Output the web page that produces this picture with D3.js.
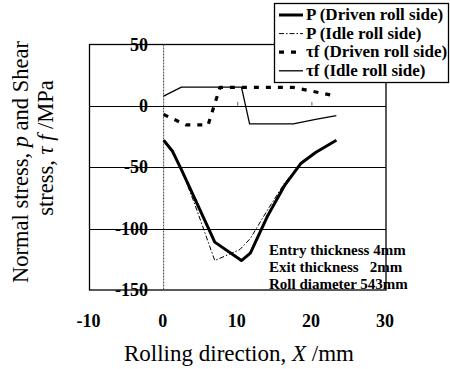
<!DOCTYPE html>
<html>
<head>
<meta charset="utf-8">
<script src="https://cdn.jsdelivr.net/npm/d3@7"></script>
<style>
  body { margin: 0; background: #fff; }
  svg { display: block; }
</style>
</head>
<body>
<svg id="chart"></svg>
<script>
// rolling direction X (mm) / stress (MPa)
const pDrivenX = [0, 1.2, 2.4, 4.7, 6.9, 10.5, 11.7, 14, 16.3, 18.5, 20.5, 23.3];
const pDrivenY = [-28, -37, -52, -82, -111, -126, -120, -90, -65, -47, -38, -28];
const pIdleX = [0, 1.2, 2.4, 4.2, 6.9, 10.3, 11.7, 14.1, 16.3, 18.5, 20.5, 23.3];
const pIdleY = [-28, -37, -52, -80, -126, -117, -108, -84, -63, -47, -38, -28];
const tauDrivenX = [0, 3, 6, 7.6, 10.5, 17.5, 23.3];
const tauDrivenY = [-7, -15.5, -15.5, 15, 15, 15, 8];
const tauIdleX = [0, 2.4, 10.5, 11.6, 17.5, 20.5, 23.3];
const tauIdleY = [8, 15.3, 15.3, -14.7, -14.7, -11, -8];

const xTicks = [-10, 0, 10, 20, 30];
const yTicks = [50, 0, -50, -100, -150];
const legendLabels = ['P (Driven roll side)', 'P (Idle roll side)', '\u03c4f (Driven roll side)', '\u03c4f (Idle roll side)'];
const noteLines = ['Entry thickness 4mm', 'Exit thickness   2mm', 'Roll diameter 543mm'];

const width = 450;
const height = 369;
const serif = '"Liberation Serif", "Times New Roman", serif';

const svg = d3.select('#chart')
  .attr('width', width)
  .attr('height', height);

const x = d3.scaleLinear().domain([-10, 30]).range([89.5, 386]);
const y = d3.scaleLinear().domain([-150, 50]).range([290, 44.5]);

const series = [
  { xs: pDrivenX, ys: pDrivenY, width: 3, dash: null },
  { xs: pIdleX, ys: pIdleY, width: 1, dash: '5,2,1.5,2' },
  { xs: tauDrivenX, ys: tauDrivenY, width: 3.2, dash: '5,7' },
  { xs: tauIdleX, ys: tauIdleY, width: 1.3, dash: null }
];

// frame
svg.append('rect')
  .attr('x', x(-10)).attr('y', y(50))
  .attr('width', x(30) - x(-10)).attr('height', y(-150) - y(50))
  .attr('fill', 'none').attr('stroke', '#000').attr('stroke-width', 1.3);

// horizontal grid lines
svg.selectAll('.grid')
  .data([0, -50, -100])
  .enter()
  .append('line')
  .attr('x1', x(-10)).attr('x2', x(30))
  .attr('y1', d => Math.round(y(d)) + 0.5).attr('y2', d => Math.round(y(d)) + 0.5)
  .attr('stroke', '#000').attr('stroke-width', 1);

// x = 0 line, dotted
svg.append('line')
  .attr('x1', x(0)).attr('x2', x(0))
  .attr('y1', y(50)).attr('y2', y(-150))
  .attr('stroke', '#444').attr('stroke-width', 1)
  .attr('stroke-dasharray', '2,1');

// small ticks on the zero line
svg.selectAll('.ztick')
  .data([10, 20])
  .enter()
  .append('line')
  .attr('x1', d => x(d)).attr('x2', d => x(d))
  .attr('y1', y(0)).attr('y2', y(0) - 4)
  .attr('stroke', '#666');

const line = d3.line()
  .x(d => x(d[0]))
  .y(d => y(d[1]));

series.forEach(s => {
  svg.append('path')
    .attr('d', line(d3.zip(s.xs, s.ys)))
    .attr('fill', 'none')
    .attr('stroke', '#000')
    .attr('stroke-width', s.width)
    .attr('stroke-linejoin', 'round')
    .attr('stroke-dasharray', s.dash);
});

// tick labels
svg.selectAll('.ylab')
  .data(yTicks)
  .enter()
  .append('text')
  .attr('x', 148)
  .attr('y', d => y(d) + 6)
  .attr('text-anchor', 'end')
  .style('font', `bold 18px ${serif}`)
  .text(d => d);

svg.selectAll('.xlab')
  .data(xTicks)
  .enter()
  .append('text')
  .attr('x', d => x(d) - 1)
  .attr('y', 327)
  .attr('text-anchor', 'middle')
  .style('font', `bold 18px ${serif}`)
  .text(d => d);

// axis titles
const xt = svg.append('text')
  .attr('x', 239).attr('y', 361)
  .attr('text-anchor', 'middle')
  .style('font', `23px ${serif}`);
xt.append('tspan').text('Rolling direction, ');
xt.append('tspan').style('font-style', 'italic').text('X');
xt.append('tspan').text(' /mm');

const yt1 = svg.append('text')
  .attr('transform', 'translate(28,162) rotate(-90)')
  .attr('text-anchor', 'middle')
  .style('font', `22.5px ${serif}`);
yt1.append('tspan').text('Normal stress, ');
yt1.append('tspan').style('font-style', 'italic').text('p');
yt1.append('tspan').text(' and Shear');

const yt2 = svg.append('text')
  .attr('transform', 'translate(53,148) rotate(-90)')
  .attr('text-anchor', 'middle')
  .style('font', `22.5px ${serif}`);
yt2.append('tspan').text('stress, ');
yt2.append('tspan').style('font-style', 'italic').text('\u03c4 f');
yt2.append('tspan').text(' /MPa');

// notes
svg.selectAll('.note')
  .data(noteLines)
  .enter()
  .append('text')
  .attr('x', 269)
  .attr('y', (d, i) => 255 + i * 17)
  .style('font', `bold 15px ${serif}`)
  .style('white-space', 'pre')
  .text(d => d);

// legend
const legend = svg.append('g');
legend.append('rect')
  .attr('x', 274.5).attr('y', 3.5)
  .attr('width', 174).attr('height', 79)
  .attr('fill', '#fff').attr('stroke', '#000').attr('stroke-width', 1.3);

legendLabels.forEach((label, i) => {
  const ly = 20 + i * 18.6;
  legend.append('line')
    .attr('x1', 279).attr('x2', 303)
    .attr('y1', ly - 5).attr('y2', ly - 5)
    .attr('stroke', '#000')
    .attr('stroke-width', series[i].width)
    .attr('stroke-dasharray', series[i].dash);
  legend.append('text')
    .attr('x', 306).attr('y', ly)
    .style('font', `bold 17px ${serif}`)
    .text(label);
});
</script>
</body>
</html>
